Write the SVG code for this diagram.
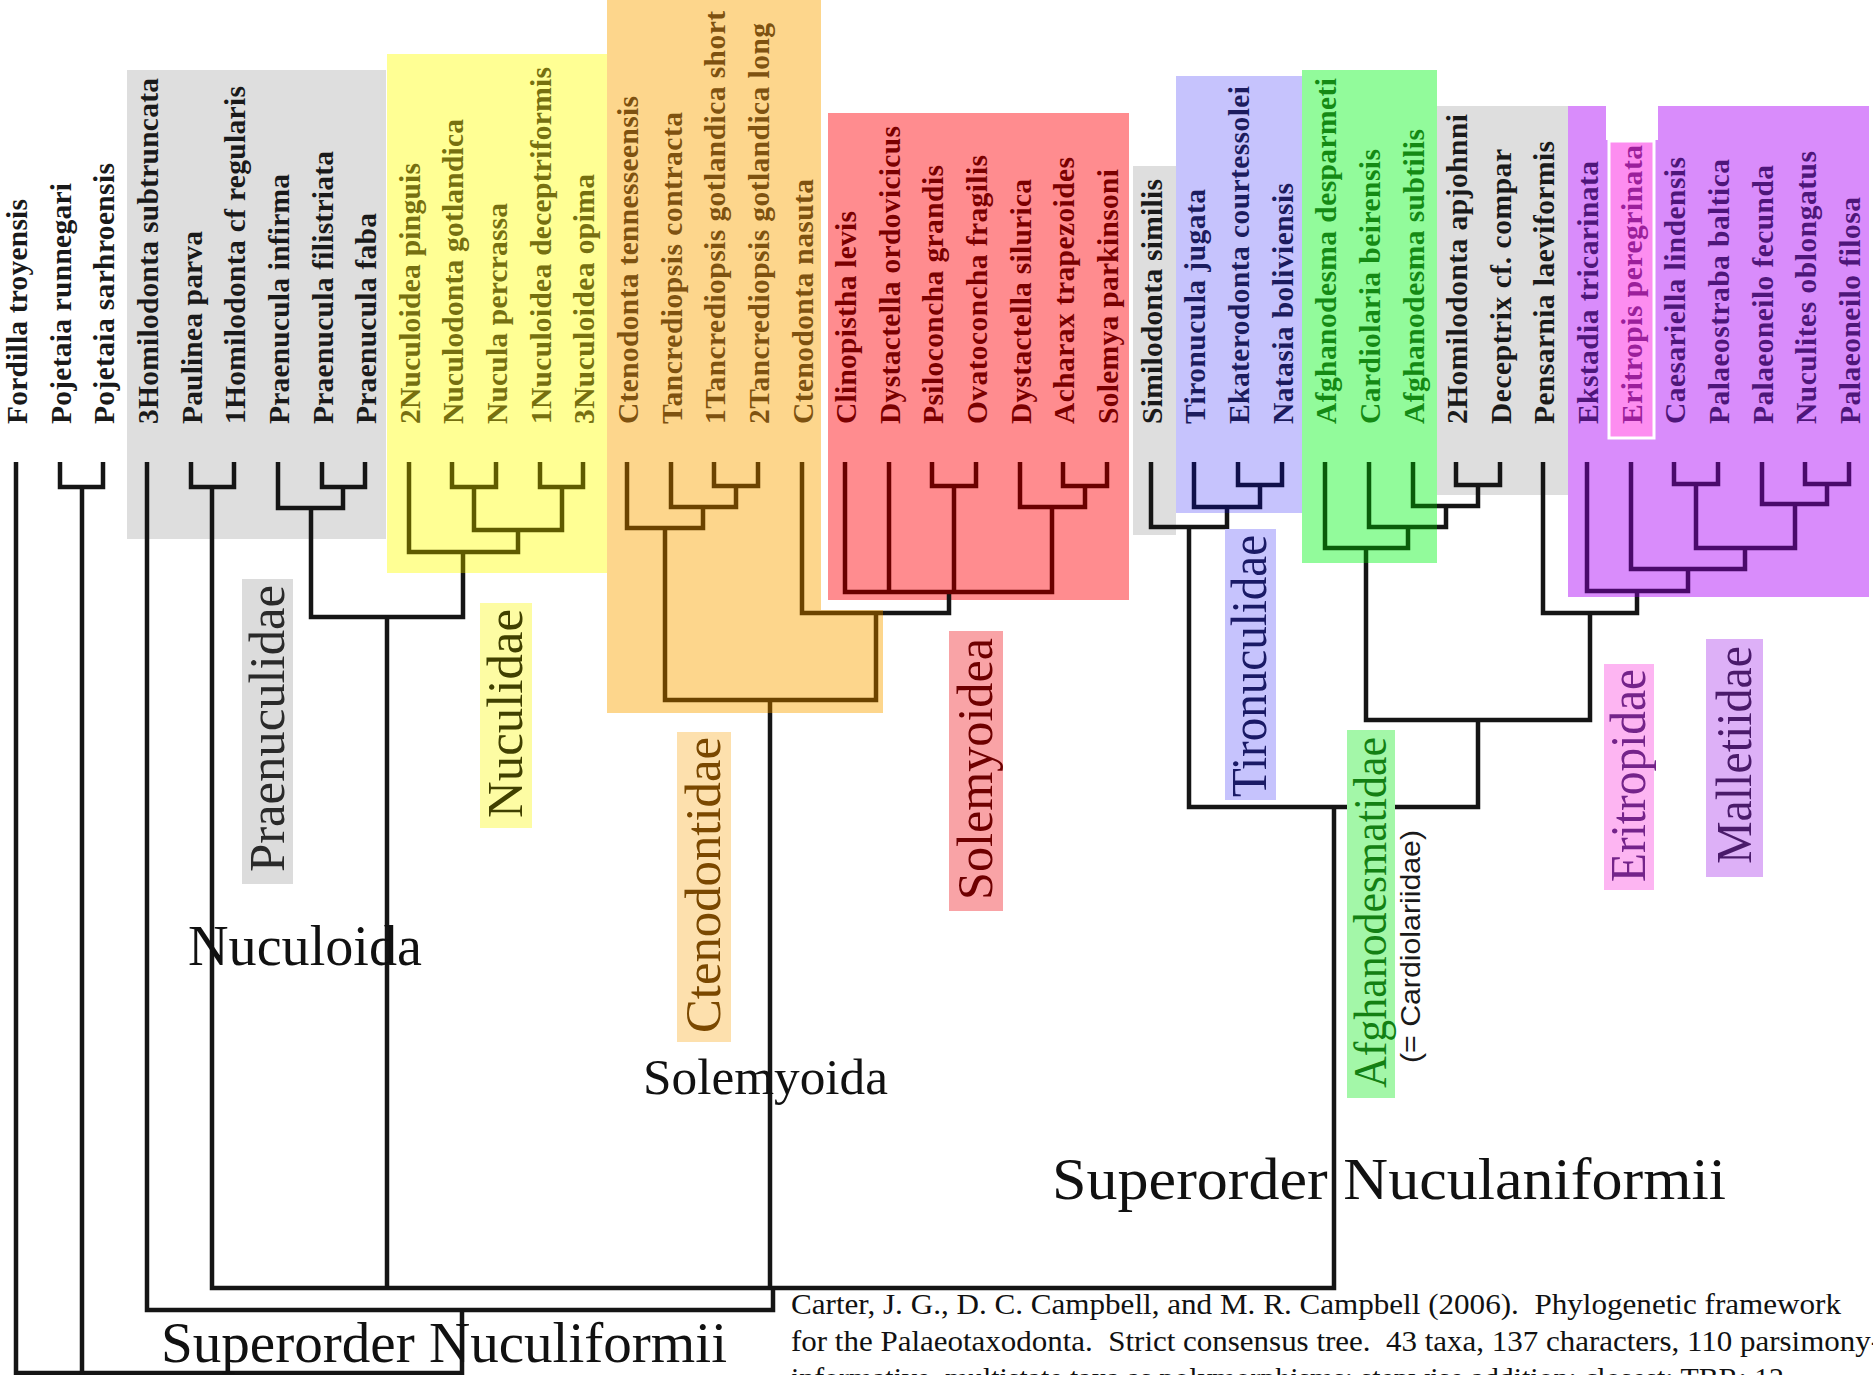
<svg xmlns="http://www.w3.org/2000/svg" width="1873" height="1375" viewBox="0 0 1873 1375">
<style>
.lf{font-family:"Liberation Serif","Times New Roman",serif;font-weight:bold;font-size:29.5px}
.fm{font-family:"Liberation Serif","Times New Roman",serif;font-size:50px}
.tt{font-family:"Liberation Serif","Times New Roman",serif;fill:#111}
.pre{white-space:pre}
.e{fill:none;stroke-width:4.5;stroke-linejoin:miter}
.k{stroke:#151515}.ol{stroke:#5f5b00}.br{stroke:#6b4300}.rd{stroke:#6b0000}.nv{stroke:#10104a}.gr{stroke:#0a5c0a}.pu{stroke:#4a0a6a}
.tk{fill:#1a1a1a}.tol{fill:#767010}.tbr{fill:#7e5210}.trd{fill:#7a0000}.tnv{fill:#1c1c5e}.tgr{fill:#148a14}.tpu{fill:#4e167a}.tmg{fill:#9b1f9b}
</style>
<rect width="1873" height="1375" fill="#ffffff"/>
<g id="clade-boxes">
<rect x="127" y="70" width="259" height="469" fill="#dedede"/>
<rect x="387" y="54" width="220" height="519" fill="#ffff94"/>
<path d="M607 0H821V610H883V713H607Z" fill="#fdd68c"/>
<rect x="826" y="111" width="305" height="491" fill="#ff8c8f" stroke="#ffffff" stroke-width="4"/>
<rect x="1133" y="166" width="43" height="369" fill="#dedede"/>
<rect x="1176" y="76" width="126" height="437" fill="#c6c3fd"/>
<rect x="1302" y="70" width="135" height="493" fill="#92fb9b"/>
<rect x="1437" y="106" width="131" height="389" fill="#dedede"/>
<rect x="1568" y="106" width="301" height="491" fill="#d98cfb"/>
<rect x="1606" y="104" width="52" height="36" fill="#ffffff"/>
<rect x="1609" y="141" width="45" height="297" fill="#fd8df0" stroke="#ffffff" stroke-width="3"/>
</g>
<g id="connectors">
<path class="e k" d="M16 462V1373H462V1310M147 462V1310H773V1288M212 487V1288H1334V807M387 617V1288M770 713V1288"/>
<path class="e k" d="M60 462V487H103V462M82 487V1375M191 462V487H234V462"/>
<path class="e k" d="M322 462V487H365V462M278 462V508H343V487M311 508V617H463V573"/>
<path class="e ol" d="M452 462V487H496V462M540 462V487H583V462M474 487V530H562V487M409 462V552H518V530M463 552V573"/>
<path class="e br" d="M714 462V486H758V462M671 462V507H736V486M627 462V528H703V507M665 528V700H876V613M802 462V613H883M770 700V713"/>
<path class="e k" d="M883 613H949V592"/>
<path class="e rd" d="M932 462V486H976V462M1063 462V486H1107V462M1020 462V507H1085V486M845 462V592H1052V507M889 462V592M954 486V592"/>
<path class="e nv" d="M1238 462V485H1282V462M1194 462V507H1260V485M1227 507V513"/>
<path class="e k" d="M1151 462V527H1227V513M1189 527V807H1478V720"/>
<path class="e gr" d="M1413 462V506H1437M1369 462V527H1437M1325 462V548H1408V527M1366 548V563"/>
<path class="e k" d="M1456 462V485H1500V462M1437 506H1478V485M1437 527H1446V506M1366 563V720H1590V613"/>
<path class="e pu" d="M1674 462V484H1718V462M1805 462V484H1849V462M1762 462V504H1827V484M1696 484V548H1795V504M1631 462V569H1745V548M1587 462V591H1688V569M1637 591V597"/>
<path class="e k" d="M1543 462V613H1637V597"/>
</g>
<g id="taxa">
<g id="t00"><text class="lf tk" transform="translate(26.5,424) rotate(-90)" textLength="225" lengthAdjust="spacing">Fordilla troyensis</text></g>
<g id="t01"><text class="lf tk" transform="translate(70.5,424) rotate(-90)" textLength="241" lengthAdjust="spacing">Pojetaia runnegari</text></g>
<g id="t02"><text class="lf tk" transform="translate(113.5,424) rotate(-90)" textLength="261" lengthAdjust="spacing">Pojetaia sarhroensis</text></g>
<g id="t03"><text class="lf tk" transform="translate(157.5,424) rotate(-90)" textLength="346" lengthAdjust="spacing">3Homilodonta subtruncata</text></g>
<g id="t04"><text class="lf tk" transform="translate(201.5,424) rotate(-90)" textLength="193" lengthAdjust="spacing">Paulinea parva</text></g>
<g id="t05"><text class="lf tk" transform="translate(244.5,424) rotate(-90)" textLength="338" lengthAdjust="spacing">1Homilodonta cf regularis</text></g>
<g id="t06"><text class="lf tk" transform="translate(288.5,424) rotate(-90)" textLength="250" lengthAdjust="spacing">Praenucula infirma</text></g>
<g id="t07"><text class="lf tk" transform="translate(332.5,424) rotate(-90)" textLength="273" lengthAdjust="spacing">Praenucula filistriata</text></g>
<g id="t08"><text class="lf tk" transform="translate(375.5,424) rotate(-90)" textLength="211" lengthAdjust="spacing">Praenucula faba</text></g>
<g id="t09"><text class="lf tol" transform="translate(419.5,424) rotate(-90)" textLength="261" lengthAdjust="spacing">2Nuculoidea pinguis</text></g>
<g id="t10"><text class="lf tol" transform="translate(462.5,424) rotate(-90)" textLength="305" lengthAdjust="spacing">Nuculodonta gotlandica</text></g>
<g id="t11"><text class="lf tol" transform="translate(506.5,424) rotate(-90)" textLength="221" lengthAdjust="spacing">Nucula percrassa</text></g>
<g id="t12"><text class="lf tol" transform="translate(550.5,424) rotate(-90)" textLength="357" lengthAdjust="spacing">1Nuculoidea deceptriformis</text></g>
<g id="t13"><text class="lf tol" transform="translate(593.5,424) rotate(-90)" textLength="250" lengthAdjust="spacing">3Nuculoidea opima</text></g>
<g id="t14"><text class="lf tbr" transform="translate(637.5,424) rotate(-90)" textLength="328" lengthAdjust="spacing">Ctenodonta tennesseensis</text></g>
<g id="t15"><text class="lf tbr" transform="translate(681.5,424) rotate(-90)" textLength="312" lengthAdjust="spacing">Tancrediopsis contracta</text></g>
<g id="t16"><text class="lf tbr" transform="translate(724.5,424) rotate(-90)" textLength="413" lengthAdjust="spacing">1Tancrediopsis gotlandica short</text></g>
<g id="t17"><text class="lf tbr" transform="translate(768.5,424) rotate(-90)" textLength="401" lengthAdjust="spacing">2Tancrediopsis gotlandica long</text></g>
<g id="t18"><text class="lf tbr" transform="translate(812.5,424) rotate(-90)" textLength="245" lengthAdjust="spacing">Ctenodonta nasuta</text></g>
<g id="t19"><text class="lf trd" transform="translate(855.5,424) rotate(-90)" textLength="213" lengthAdjust="spacing">Clinopistha levis</text></g>
<g id="t20"><text class="lf trd" transform="translate(899.5,424) rotate(-90)" textLength="298" lengthAdjust="spacing">Dystactella ordovicicus</text></g>
<g id="t21"><text class="lf trd" transform="translate(942.5,424) rotate(-90)" textLength="259" lengthAdjust="spacing">Psiloconcha grandis</text></g>
<g id="t22"><text class="lf trd" transform="translate(986.5,424) rotate(-90)" textLength="269" lengthAdjust="spacing">Ovatoconcha fragilis</text></g>
<g id="t23"><text class="lf trd" transform="translate(1030.5,424) rotate(-90)" textLength="245" lengthAdjust="spacing">Dystactella silurica</text></g>
<g id="t24"><text class="lf trd" transform="translate(1073.5,424) rotate(-90)" textLength="267" lengthAdjust="spacing">Acharax trapezoides</text></g>
<g id="t25"><text class="lf trd" transform="translate(1117.5,424) rotate(-90)" textLength="255" lengthAdjust="spacing">Solemya parkinsoni</text></g>
<g id="t26"><text class="lf tk" transform="translate(1161.5,424) rotate(-90)" textLength="245" lengthAdjust="spacing">Similodonta similis</text></g>
<g id="t27"><text class="lf tnv" transform="translate(1204.5,424) rotate(-90)" textLength="235" lengthAdjust="spacing">Tironucula jugata</text></g>
<g id="t28"><text class="lf tnv" transform="translate(1248.5,424) rotate(-90)" textLength="338" lengthAdjust="spacing">Ekaterodonta courtessolei</text></g>
<g id="t29"><text class="lf tnv" transform="translate(1292.5,424) rotate(-90)" textLength="241" lengthAdjust="spacing">Natasia boliviensis</text></g>
<g id="t30"><text class="lf tgr" transform="translate(1335.5,424) rotate(-90)" textLength="346" lengthAdjust="spacing">Afghanodesma desparmeti</text></g>
<g id="t31"><text class="lf tgr" transform="translate(1379.5,424) rotate(-90)" textLength="275" lengthAdjust="spacing">Cardiolaria beirensis</text></g>
<g id="t32"><text class="lf tgr" transform="translate(1423.5,424) rotate(-90)" textLength="295" lengthAdjust="spacing">Afghanodesma subtilis</text></g>
<g id="t33"><text class="lf tk" transform="translate(1466.5,424) rotate(-90)" textLength="310" lengthAdjust="spacing">2Homilodonta apjohnni</text></g>
<g id="t34"><text class="lf tk" transform="translate(1510.5,424) rotate(-90)" textLength="275" lengthAdjust="spacing">Deceptrix cf. compar</text></g>
<g id="t35"><text class="lf tk" transform="translate(1553.5,424) rotate(-90)" textLength="283" lengthAdjust="spacing">Pensarnia laeviformis</text></g>
<g id="t36"><text class="lf tpu" transform="translate(1597.5,424) rotate(-90)" textLength="263" lengthAdjust="spacing">Ekstadia tricarinata</text></g>
<g id="t37"><text class="lf tmg" transform="translate(1641.5,424) rotate(-90)" textLength="279" lengthAdjust="spacing">Eritropis peregrinata</text></g>
<g id="t38"><text class="lf tpu" transform="translate(1684.5,424) rotate(-90)" textLength="267" lengthAdjust="spacing">Caesariella lindensis</text></g>
<g id="t39"><text class="lf tpu" transform="translate(1728.5,424) rotate(-90)" textLength="265" lengthAdjust="spacing">Palaeostraba baltica</text></g>
<g id="t40"><text class="lf tpu" transform="translate(1772.5,424) rotate(-90)" textLength="259" lengthAdjust="spacing">Palaeoneilo fecunda</text></g>
<g id="t41"><text class="lf tpu" transform="translate(1815.5,424) rotate(-90)" textLength="273" lengthAdjust="spacing">Nuculites oblongatus</text></g>
<g id="t42"><text class="lf tpu" transform="translate(1859.5,424) rotate(-90)" textLength="227" lengthAdjust="spacing">Palaeoneilo filosa</text></g>
</g>
<g id="families">
<g id="f-praenuculidae"><rect x="242" y="579" width="51" height="305" fill="#dcdcdc"/><text class="fm" fill="#2a2a2a" transform="translate(284,872) rotate(-90)" textLength="287" lengthAdjust="spacingAndGlyphs">Praenuculidae</text></g>
<g id="f-nuculidae"><rect x="480" y="603" width="52" height="225" fill="#fdfca3"/><text class="fm" fill="#404000" transform="translate(522,818) rotate(-90)" textLength="209" lengthAdjust="spacingAndGlyphs">Nuculidae</text></g>
<g id="f-ctenodontidae"><rect x="677" y="732" width="54" height="310" fill="#fde0ad"/><text class="fm" fill="#7a4800" transform="translate(720,1033) rotate(-90)" textLength="296" lengthAdjust="spacingAndGlyphs">Ctenodontidae</text></g>
<g id="f-solemyoidea"><rect x="949" y="631" width="54" height="280" fill="#f9a3a6"/><text class="fm" fill="#6e0000" transform="translate(992,900) rotate(-90)" textLength="262" lengthAdjust="spacingAndGlyphs">Solemyoidea</text></g>
<g id="f-tironuculidae"><rect x="1225" y="529" width="51" height="271" fill="#c6c3fd"/><text class="fm" fill="#1a1a66" transform="translate(1266,797) rotate(-90)" textLength="262" lengthAdjust="spacingAndGlyphs">Tironuculidae</text></g>
<g id="f-afghanodesmatidae"><rect x="1347" y="730" width="48" height="368" fill="#a3f7a8"/><text class="fm" fill="#138013" style="font-size:46px" transform="translate(1386,1088) rotate(-90)" textLength="351" lengthAdjust="spacingAndGlyphs">Afghanodesmatidae</text><text fill="#1a1a1a" style="font-family:'Liberation Sans',Arial,sans-serif;font-size:27px" transform="translate(1420,1063) rotate(-90)" textLength="233" lengthAdjust="spacingAndGlyphs">(= Cardiolariidae)</text></g>
<g id="f-eritropidae"><rect x="1604" y="664" width="50" height="226" fill="#fdb5f2"/><text class="fm" fill="#74238a" transform="translate(1645,882) rotate(-90)" textLength="213" lengthAdjust="spacingAndGlyphs">Eritropidae</text></g>
<g id="f-malletiidae"><rect x="1706" y="639" width="57" height="238" fill="#ddb0f7"/><text class="fm" fill="#4a1a6a" transform="translate(1751,864) rotate(-90)" textLength="218" lengthAdjust="spacingAndGlyphs">Malletiidae</text></g>
</g>
<g id="titles">
<text class="tt" x="188" y="965" style="font-size:56px" textLength="234" lengthAdjust="spacingAndGlyphs">Nuculoida</text>
<text class="tt" x="643" y="1094" style="font-size:51px" textLength="245" lengthAdjust="spacingAndGlyphs">Solemyoida</text>
<text class="tt" x="1052" y="1199" style="font-size:60px" textLength="674" lengthAdjust="spacingAndGlyphs">Superorder Nuculaniformii</text>
<text class="tt" x="161" y="1362" style="font-size:57px" textLength="566" lengthAdjust="spacingAndGlyphs">Superorder Nuculiformii</text>
</g>
<g id="citation">
<text class="tt pre" x="791" y="1314" style="font-size:30px" textLength="1050" lengthAdjust="spacingAndGlyphs">Carter, J. G., D. C. Campbell, and M. R. Campbell (2006).  Phylogenetic framework</text>
<text class="tt pre" x="791" y="1351" style="font-size:30px" textLength="1090" lengthAdjust="spacingAndGlyphs">for the Palaeotaxodonta.  Strict consensus tree.  43 taxa, 137 characters, 110 parsimony-</text>
<text class="tt pre" x="791" y="1388" style="font-size:30px" textLength="993" lengthAdjust="spacingAndGlyphs">informative, multistate taxa as polymorphisms; stepwise addition: closest; TBR; 12</text>
</g>
</svg>
